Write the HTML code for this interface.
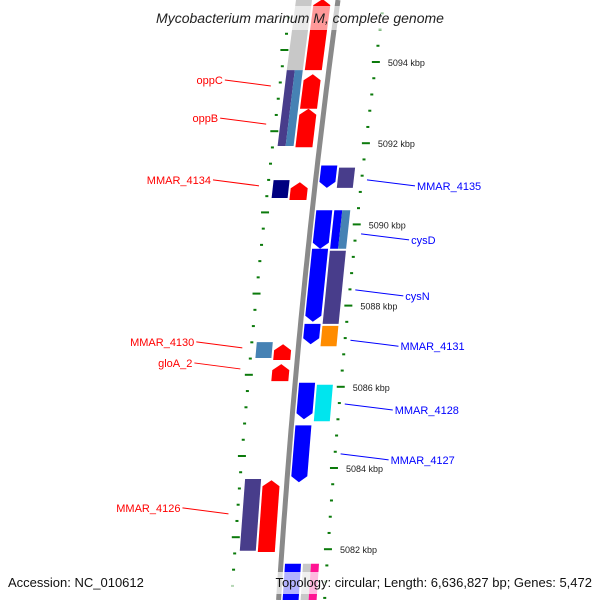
<!DOCTYPE html>
<html><head><meta charset="utf-8"><style>
html,body{margin:0;padding:0;background:#fff;width:600px;height:600px;overflow:hidden}
svg{display:block;font-family:"Liberation Sans","DejaVu Sans",sans-serif}
</style></head><body>
<svg id="map" width="600" height="600" viewBox="0 0 600 600" xmlns="http://www.w3.org/2000/svg">
<g id="ticks"></g>
<g id="feats"></g>
<g id="labels"></g>
<rect x="130" y="6" width="340" height="24" fill="#fff" fill-opacity="0.6"/>
<text x="300" y="23" text-anchor="middle" font-size="14" font-style="italic" fill="#222">Mycobacterium marinum M, complete genome</text>
<rect x="228" y="572" width="372" height="22" fill="#fff" fill-opacity="0.7"/>
<text x="8" y="587" font-size="13" fill="#111">Accession: NC_010612</text>
<text x="592" y="587" text-anchor="end" font-size="13" fill="#111">Topology: circular; Length: 6,636,827 bp; Genes: 5,472</text>
</svg>
<script>
// ---- data ----
const featNames  = ["top-red","oppC","oppB","MMAR_4134","MMAR_4130","gloA_2","MMAR_4126",
  "top-gray","opp-cog-a","opp-cog-b","MMAR_4134-cog","MMAR_4130-cog","MMAR_4126-cog",
  "MMAR_4135","cysD","cysN","MMAR_4131","MMAR_4128","MMAR_4127","bottom-blue",
  "MMAR_4135-cog","cysD-cog-a","cysD-cog-b","cysN-cog","MMAR_4131-cog","MMAR_4128-cog","bottom-gray","bottom-pink"];
const featStart  = [5095.55,5093.7,5092.85,5091.04,5087.05,5086.56,5083.70,
  5095.55,5093.80,5093.80,5091.09,5087.10,5083.73,
  5091.45,5090.35,5089.4,5087.55,5086.1,5085.05,5081.64,
  5091.4,5090.35,5090.35,5089.35,5087.5,5086.05,5081.64,5081.64];
const featEnd    = [5093.8,5092.85,5091.9,5090.60,5086.66,5086.14,5081.93,
  5093.8,5091.93,5091.93,5090.65,5086.71,5081.96,
  5090.9,5089.4,5087.6,5087.05,5085.2,5083.65,5080.6,
  5090.9,5089.4,5089.4,5087.55,5087.0,5085.15,5080.6,5080.6];
const featTrack  = ["-1","-1","-1","-1","-1","-1","-1", "-2","-2o","-2i","-2","-2","-2", "1","1","1","1","1","1","1", "2","2i","2o","2","2","2","2i","2o"];
const featArrow  = [1,1,1,1,1,1,1, 0,0,0,0,0,0, 1,1,1,1,1,1,0, 0,0,0,0,0,0,0,0];
const featColor  = ["#ff0000","#ff0000","#ff0000","#ff0000","#ff0000","#ff0000","#ff0000",
  "#c8c8c8","#483d8b","#4682b4","#000080","#4682b4","#483d8b",
  "#0000ff","#0000ff","#0000ff","#0000ff","#0000ff","#0000ff","#0000ff",
  "#483d8b","#0000ff","#4682b4","#483d8b","#ff8c00","#00e5ee","#c8c8c8","#ff1493"];
const labelText  = ["oppC","oppB","MMAR_4134","MMAR_4130","gloA_2","MMAR_4126","MMAR_4135","cysD","cysN","MMAR_4131","MMAR_4128","MMAR_4127"];
const labelKbp   = [5093.41,5092.47,5090.95,5086.96,5086.44,5082.87,5090.95,5089.62,5088.24,5087.0,5085.43,5084.2];
const labelSide  = [-1,-1,-1,-1,-1,-1,1,1,1,1,1,1];
const majorTicks = [5082,5084,5086,5088,5090,5092,5094];
// ---- scales ----
const y = k => 62 + (5094 - k) * 40.6;
const bb = yy => 338 - 0.135 * yy + 0.00006 * yy * yy;
const trackOff = {"-1":[-24,-7],"-2":[-42,-26],"-2o":[-42,-34],"-2i":[-34,-26],"1":[4,20],"2":[22,38],"2i":[22,30],"2o":[30,38]};
const NS = "http://www.w3.org/2000/svg";
const mk = (t, a, p) => { const e = document.createElementNS(NS, t); for (const k in a) e.setAttribute(k, a[k]); p.appendChild(e); return e; };
const svg = document.getElementById('map');
// backbone
const bbPts = []; for (let yy = 0; yy <= 600; yy += 10) bbPts.push(bb(yy).toFixed(1) + "," + yy);
const bbL = mk('polyline', {points: bbPts.join(" "), fill: "none", stroke: "#8a8a8a", "stroke-width": 5}, svg);


svg.insertBefore(bbL, svg.firstChild);
// ticks
const tg = document.getElementById('ticks');
for (let i = 0; i <= 45; i++) {
  const k = 5080 + i * 0.4; const major = i % 5 === 0;
  const yr = y(k), yl = yr - 12;
  const len = major ? 8 : 3;
  if (yr > 2 && yr < 598) {
    const xr = bb(yr) + 46;
    const r = mk('rect', {x: xr - len / 2, y: yr - 1, width: len, height: 2, fill: "#0b7a0b"}, tg);
    
    
  }
  if (yl > 2 && yl < 598) {
    const xl = bb(yl) - 47;
    const l = mk('rect', {x: xl - len / 2, y: yl - 1, width: len, height: 2, fill: "#0b7a0b"}, tg);
    
    
  }
}
majorTicks.forEach(k => {
  const yr = y(k);
  const t = mk('text', {x: bb(yr) + 58, y: yr + 4, "font-size": 9, fill: "#222"}, tg);
  t.textContent = k + " kbp";
  
  
});
// features
const fg = document.getElementById('feats');
featNames.forEach((n, i) => {
  const tr = featTrack[i]; const [o1, o2] = trackOff[tr];
  const y1 = Math.max(-10, y(featStart[i])), y2 = Math.min(610, y(featEnd[i]));
  const L = yy => bb(yy) + o1, R = yy => bb(yy) + o2;
  let pts;
  if (featArrow[i]) {
    if (tr.startsWith("-")) {
      const ya = y1 + 6, ym = (L(y1) + R(y1)) / 2;
      pts = [[L(y2), y2], [L(ya), ya], [ym, y1], [R(ya), ya], [R(y2), y2]];
    } else {
      const ya = y2 - 6, ym = (L(y2) + R(y2)) / 2;
      pts = [[L(y1), y1], [R(y1), y1], [R(ya), ya], [ym, y2], [L(ya), ya]];
    }
  } else pts = [[L(y1), y1], [R(y1), y1], [R(y2), y2], [L(y2), y2]];
  const p = mk('polygon', {points: pts.map(q => q[0].toFixed(1) + "," + q[1].toFixed(1)).join(" "), fill: featColor[i]}, fg);
  
  
});
// labels
const lg = document.getElementById('labels');
labelText.forEach((s, i) => {
  const yy = y(labelKbp[i]); const side = labelSide[i];
  const col = side < 0 ? "#ff0000" : "#0000ff";
  let x1, x2, tx, anchor;
  if (side < 0) { x2 = bb(yy) - 56; x1 = x2 - 46; tx = x1 - 2; anchor = "end"; }
  else { x1 = bb(yy) + 52; x2 = x1 + 48; tx = x2 + 2; anchor = "start"; }
  const ln = mk('line', {x1: x1, y1: yy - 6, x2: x2, y2: yy, stroke: col, "stroke-width": 1}, lg);
  
  
  const t = mk('text', {x: tx, y: side < 0 ? yy - 2 : yy + 4, "text-anchor": anchor, "font-size": 11, fill: col}, lg);
  t.textContent = s;
  
  
});
</script>
</body></html>
